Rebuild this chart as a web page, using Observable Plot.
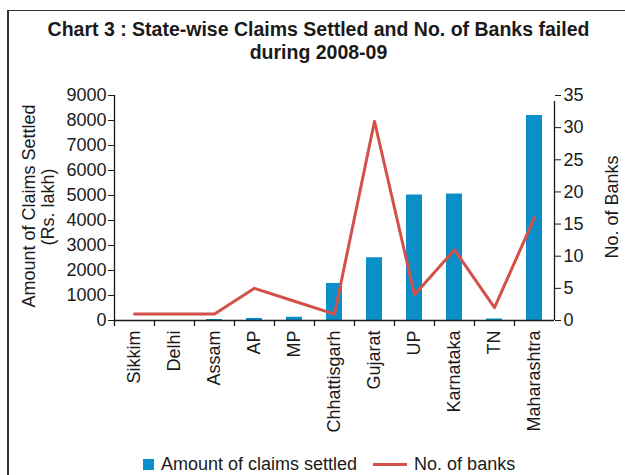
<!DOCTYPE html>
<html>
<head>
<meta charset="utf-8">
<script src="https://cdn.jsdelivr.net/npm/d3@7"></script>
<script src="https://cdn.jsdelivr.net/npm/@observablehq/plot@0.6"></script>
<style>
  html, body { margin: 0; padding: 0; background: #fff; }
  body { font-family: "Liberation Sans", Arial, Helvetica, sans-serif; color: #1a1a1a; }
  #wrap { position: relative; width: 625px; height: 475px; overflow: hidden; }
  #frame { position: absolute; left: 7px; top: 10px; width: 640px; height: 500px;
           border-left: 2px solid #333; border-top: 1.5px solid #333; box-sizing: border-box; }
  #chart { position: absolute; left: 0; top: 0; }
  #title { position: absolute; left: 0; width: 637px; top: 18px; text-align: center;
           font-weight: bold; font-size: 19.5px; line-height: 23px; color: #1a1a1a; }
  #legend { position: absolute; top: 453px; left: 143px; font-size: 18px; line-height: 22px;
            white-space: nowrap; display: flex; align-items: center; }
  .sw { display: inline-block; width: 11px; height: 11px; background: #0a8fc8; margin-right: 7px; }
  .ln { display: inline-block; width: 34px; height: 3px; background: #d4504a; margin-left: 16px; margin-right: 7px; }
</style>
</head>
<body>
<div id="wrap">
  <div id="chart"></div>
  <div id="frame"></div>
  <div id="title">Chart 3 : State-wise Claims Settled and No. of Banks failed<br>during 2008-09</div>
  <div id="legend"><span class="sw"></span><span>Amount of claims settled</span><span class="ln"></span><span>No. of banks</span></div>
</div>
<script>
const states = ["Sikkim","Delhi","Assam","AP","MP","Chhattisgarh","Gujarat","UP","Karnataka","TN","Maharashtra"];
const claims = [0, 0, 40, 80, 130, 1480, 2510, 5020, 5060, 60, 8200];
const banks  = [1, 1, 1, 5, 3, 1, 31, 4, 11, 2, 16];
const leftTicks  = [0,1000,2000,3000,4000,5000,6000,7000,8000,9000];
const rightTicks = [0,5,10,15,20,25,30,35];

const yMax = 9000, y2Max = 35, k = yMax / y2Max;
const data = states.map((s, i) => ({state: s, claims: claims[i], banks: banks[i]}));

const plot = Plot.plot({
  width: 625, height: 475,
  marginLeft: 114, marginRight: 71, marginTop: 95, marginBottom: 155,
  style: {fontFamily: '"Liberation Sans", Arial, sans-serif', fontSize: "18px", color: "#1a1a1a", background: "transparent"},
  x: {domain: states, paddingInner: 0.6, paddingOuter: 0.3, label: null},
  y: {domain: [0, yMax], label: null},
  marks: [
    Plot.barY(data, {x: "state", y: "claims", fill: "#0a8fc8"}),
    Plot.line(data, {x: "state", y: d => d.banks * k, stroke: "#d4504a", strokeWidth: 3}),
    Plot.ruleY([0], {stroke: "#1a1a1a", strokeWidth: 1.3}),
    Plot.ruleX(states, {x: d => d, dx: -20, y1: 0, y2: 0, insetBottom: -6, stroke: "#1a1a1a", strokeWidth: 1.3}),
    Plot.ruleX([states[0]], {x: d => d, dx: -20, y1: 0, y2: yMax, stroke: "#1a1a1a", strokeWidth: 1.3}),
    Plot.ruleX([states[states.length - 1]], {x: d => d, dx: 20, y1: 0, y2: yMax, insetBottom: -6, stroke: "#1a1a1a", strokeWidth: 1.3}),
    Plot.axisY({ticks: leftTicks, tickFormat: d => String(d), tickSize: 6, tickPadding: 2, label: null, fontSize: 18}),
    Plot.axisY({anchor: "right", ticks: rightTicks.map(v => v * k), tickFormat: d => String(Math.round(d / k)),
                tickSize: 6, tickPadding: 3, label: null, fontSize: 18}),
    Plot.axisX({tickRotate: -90, tickSize: 0, tickPadding: 10, label: null, fontSize: 18})
  ]
});
document.getElementById("chart").appendChild(plot);

const svg = d3.select(plot);
const ttl = svg.append("g").attr("font-size", 18).attr("fill", "#1a1a1a").attr("text-anchor", "middle");
ttl.append("text").attr("transform", "translate(35,206) rotate(-90)").text("Amount of Claims Settled");
ttl.append("text").attr("transform", "translate(54,207) rotate(-90)").text("(Rs. lakh)");
ttl.append("text").attr("transform", "translate(618,207) rotate(-90)").text("No. of Banks");
</script>
</body>
</html>
